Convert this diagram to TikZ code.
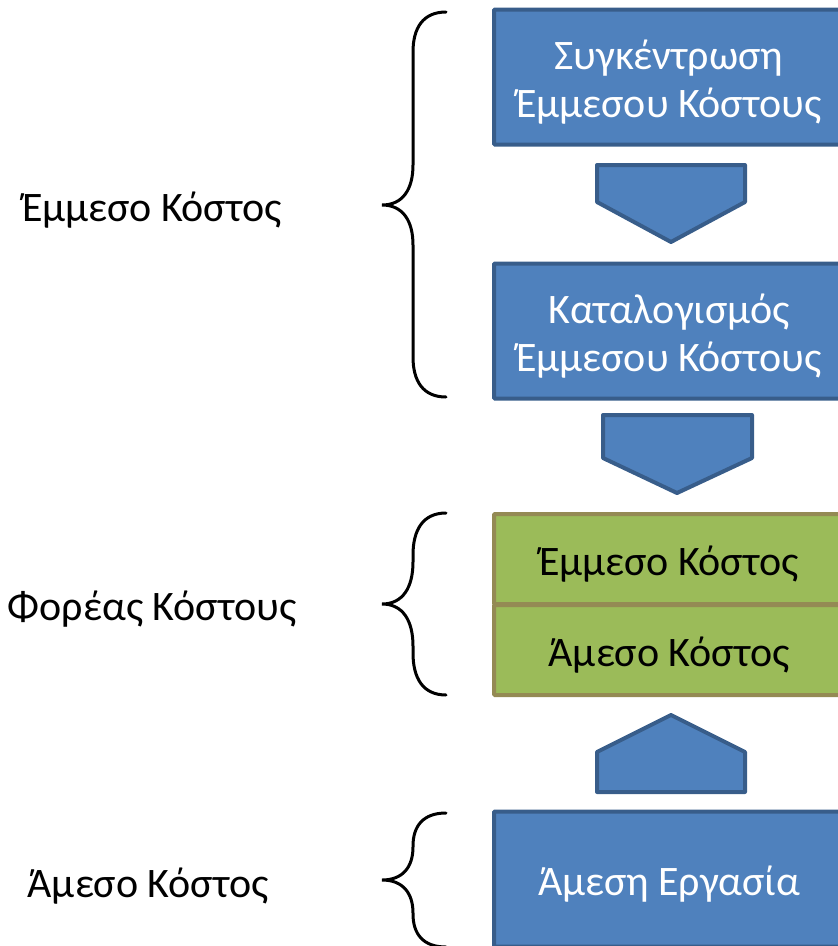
\documentclass[tikz,border=0pt]{standalone}
\usepackage{fontspec}
\setmainfont{Carlito}
\usetikzlibrary{positioning}

\definecolor{boxblue}{HTML}{4F81BD}
\definecolor{edgeblue}{HTML}{385D8A}
\definecolor{boxgreen}{HTML}{9BBB59}
\definecolor{edgegreen}{HTML}{948A54}

% curly bracket: top end, tip, bottom end, curve depth
\newcommand\drawcurly[4]{%
  \draw[curly] (446,#1) .. controls (423,#1) and (413,#1+#4*0.4) .. (413,#1+#4)
    -- (413,#2-#4) .. controls (413,#2-#4*0.4) and (403,#2) .. (382,#2)
    .. controls (403,#2) and (413,#2+#4*0.4) .. (413,#2+#4)
    -- (413,#3-#4) .. controls (413,#3-#4*0.4) and (423,#3) .. (446,#3);}

\begin{document}
\begin{tikzpicture}[x=1pt,y=-1pt,
  txt/.style={font=\fontsize{42}{48}\selectfont,align=center},
  boxtxt/.style={txt,yshift=-5pt},
  bluebox/.style={draw=edgeblue,fill=boxblue,line width=4pt,
    minimum width=350pt,minimum height=135pt,rounded corners=1pt},
  greenbox/.style={draw=edgegreen,fill=boxgreen,line width=4pt,
    minimum width=350pt,minimum height=90pt,rounded corners=1pt},
  chevron/.style={draw=edgeblue,fill=boxblue,line width=4pt,line join=round},
  curly/.style={line width=3pt,line cap=round}
]
\useasboundingbox (0,0) rectangle (838,946);
\clip (0,0) rectangle (838,946);

% boxes
\node[bluebox,label={[boxtxt,text=white]center:Συγκέντρωση\\Έμμεσου Κόστους}] (pool) at (669,77) {};
\node[bluebox,label={[boxtxt,text=white]center:Καταλογισμός\\Έμμεσου Κόστους}] (alloc) at (669,331) {};
\node[greenbox,label={[boxtxt]center:Έμμεσο Κόστος}] (carind) at (669,559) {};
\node[greenbox,label={[boxtxt]center:Άμεσο Κόστος}] (cardir) at (669,650) {};
\node[bluebox,label={[boxtxt,text=white]center:Άμεση Εργασία}] (labor) at (669,879) {};

% block arrows
\draw[chevron] (597,165) -- (745,165) -- (745,202) -- (671,242) -- (597,202) -- cycle;
\draw[chevron] (603,415) -- (752,415) -- (752,458) -- (677,493) -- (603,458) -- cycle;
\draw[chevron] (597,792) -- (745,792) -- (745,752) -- (671,715) -- (597,752) -- cycle;

% brackets
\drawcurly{12}{205}{397}{40}
\drawcurly{513}{604}{695}{42}
\drawcurly{813}{880}{947}{33}

% labels
\node[txt] (lblind) at (152,210) {Έμμεσο Κόστος};
\node[txt] (lblcar) at (152,609) {Φορέας Κόστους};
\node[txt] (lbldir) at (148,886) {Άμεσο Κόστος};

\end{tikzpicture}
\end{document}
